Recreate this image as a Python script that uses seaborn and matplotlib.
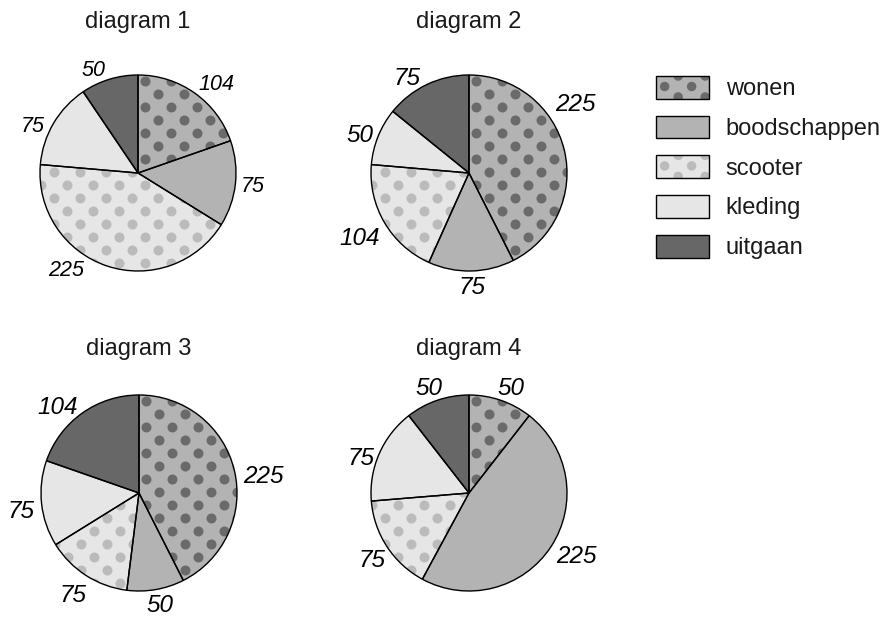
import numpy as np
import matplotlib
matplotlib.use("Agg")
import matplotlib.pyplot as plt
import seaborn as sns
from matplotlib.legend_handler import HandlerBase
from matplotlib.patches import Rectangle, Circle

# ---- data ----
categories = ["wonen", "boodschappen", "scooter", "kleding", "uitgaan"]
diagram_titles = ["diagram 1", "diagram 2", "diagram 3", "diagram 4"]
diagram1 = [104, 75, 225, 75, 50]
diagram2 = [225, 75, 104, 50, 75]
diagram3 = [225, 50, 75, 75, 104]
diagram4 = [50, 225, 75, 75, 50]
diagrams = [diagram1, diagram2, diagram3, diagram4]

# ---- styles ----
face_colors = ["#b3b3b3", "#b3b3b3", "#e6e6e6", "#e6e6e6", "#676767"]
dot_colors = ["#6a6a6a", None, "#bbbbbb", None, None]
label_sizes = [15.5, 17.5, 17.5, 17.5]
# small pixel nudges (dx right, dy down) of the value labels, as in the original
label_nudges = [
    [(10.6, 5.2), (-2.4, -1.9), (-35.2, -17.1), (-3.6, 10.6), (-10.3, 7.5)],
    [(-8.4, -43.2), (-0.1, -5.6), (-7.6, 3.2), (0.1, 3.5), (-11.7, 9.1)],
    [(9.6, 8.3), (0.6, -5.5), (-3.0, 0.5), (-1.3, 3.1), (-13.4, 7.9)],
    [(3.6, 4.0), (9.2, -3.3), (1.2, 1.0), (-0.5, 10.0), (-1.8, 4.0)],
]

sns.set_theme(style="white")
plt.rcParams["font.family"] = ["Liberation Sans", "DejaVu Sans"]

W, H = 883, 617
fig = plt.figure(figsize=(W / 100, H / 100), dpi=100)
ax = fig.add_axes([0, 0, 1, 1])

centers = [(138, H - 173), (469, H - 173), (139, H - 493), (469, H - 493)]
title_y = [H - 22, H - 22, H - 349, H - 349]
R = 98
DOT_R = 5.0
DX, DY = 26, 13
DOT_S = (2 * DOT_R * 0.72) ** 2


def dot_grid(cx, cy):
    pts = []
    ys = np.arange(-R - 2 * DY, R + 2 * DY, DY) + 8
    for i, y in enumerate(ys):
        off = (DX / 2) * (i % 2)
        xs = np.arange(-R - 2 * DX, R + 2 * DX, DX) + off + 1
        for x in xs:
            pts.append((cx + x, cy + y))
    return np.array(pts)


legend_handles = None
for k, (vals, c, title) in enumerate(zip(diagrams, centers, diagram_titles)):
    wedges, _ = ax.pie(vals, colors=face_colors, startangle=90, counterclock=False,
                       center=c, radius=R, frame=True,
                       wedgeprops=dict(linewidth=0, edgecolor="none"))
    for w in wedges:
        w.set_zorder(1)
    if legend_handles is None:
        legend_handles = wedges
    pts = dot_grid(*c)
    for w, dc in zip(wedges, dot_colors):
        if dc is None:
            continue
        sc = ax.scatter(pts[:, 0], pts[:, 1], s=DOT_S, c=dc, linewidths=0, zorder=2)
        sc.set_clip_path(w)
    _, texts = ax.pie(vals, labels=[str(v) for v in vals], startangle=90,
                      counterclock=False, center=c, radius=R, frame=True,
                      labeldistance=1.2,
                      wedgeprops=dict(fill=False, linewidth=1.0, edgecolor="black",
                                      zorder=3),
                      textprops=dict(fontsize=label_sizes[k], fontstyle="italic",
                                     color="black"))
    for t, (ndx, ndy) in zip(texts, label_nudges[k]):
        x, y = t.get_position()
        t.set_position((x + ndx, y - ndy))
        t.set_horizontalalignment("center")
        t.set_verticalalignment("center_baseline")
    ax.text(c[0], title_y[k], title, ha="center", va="center", fontsize=17,
            color="#1a1a1a")

ax.set_xlim(0, W)
ax.set_ylim(0, H)
ax.set_aspect("equal")
ax.axis("off")


class DotPatchHandler(HandlerBase):
    def __init__(self, face, dot):
        super().__init__()
        self.face = face
        self.dot = dot

    def create_artists(self, legend, orig_handle, xdescent, ydescent, width, height,
                       fontsize, trans):
        x0, y0 = -xdescent, -ydescent
        bg = Rectangle((x0, y0), width, height, facecolor=self.face,
                       edgecolor="none", transform=trans)
        arts = [bg]
        if self.dot is not None:
            p = 0.72
            r = DOT_R * p * 0.95
            dx, dy = 27 * p, 10.5 * p
            ys = np.arange(y0 + height, y0 - dy, -dy)
            for i, yy in enumerate(ys):
                off = (dx / 2) * ((i + 1) % 2)
                for xx in np.arange(x0 + 0.32 * dx + off - dx, x0 + width + dx, dx):
                    circ = Circle((xx, yy), r, facecolor=self.dot, edgecolor="none",
                                  transform=trans)
                    circ.set_clip_path(bg)
                    arts.append(circ)
        arts.append(Rectangle((x0, y0), width, height, fill=False, edgecolor="black",
                              linewidth=1.0, transform=trans))
        return arts


handler_map = {w: DotPatchHandler(fc, dc)
               for w, fc, dc in zip(legend_handles, face_colors, dot_colors)}
leg = ax.legend(legend_handles, categories, handler_map=handler_map,
                loc="upper left", bbox_to_anchor=(656, H - 76),
                bbox_transform=ax.transData, frameon=False, fontsize=17,
                borderpad=0, borderaxespad=0, handlelength=2.25, handleheight=1.1,
                handletextpad=0.7, labelspacing=0.65)
for t in leg.get_texts():
    t.set_color("#1a1a1a")

fig.savefig("out.png", dpi=100)
